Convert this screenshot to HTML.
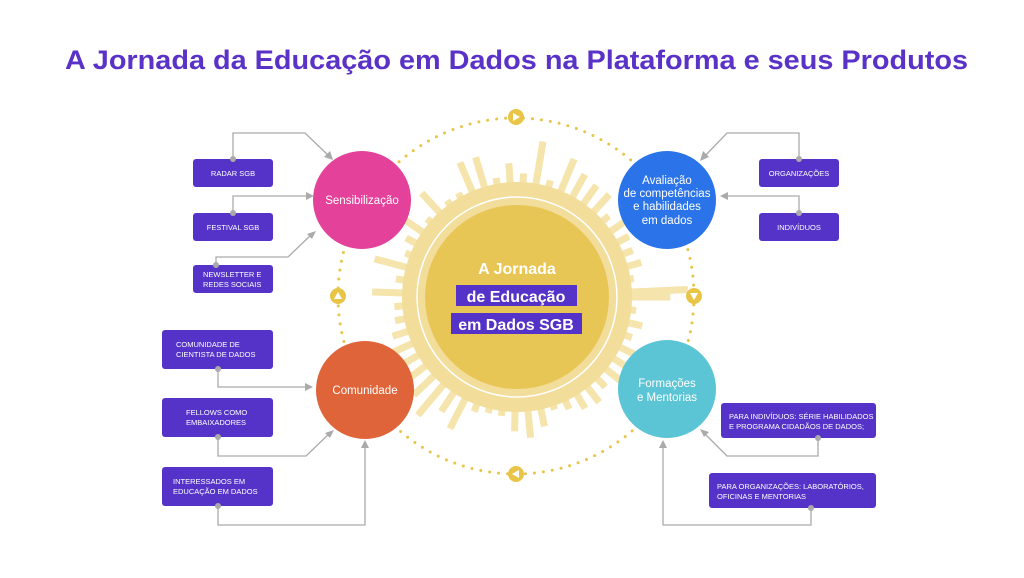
<!DOCTYPE html>
<html><head><meta charset="utf-8"><style>
body{margin:0;width:1024px;height:573px;background:#fff;overflow:hidden;font-family:"Liberation Sans",sans-serif}
</style></head><body>
<svg id="s" width="1024" height="573" viewBox="0 0 1024 573" xmlns="http://www.w3.org/2000/svg">
<text x="65" y="69" textLength="903" lengthAdjust="spacingAndGlyphs" font-family="Liberation Sans,sans-serif" font-weight="bold" font-size="27" fill="#5a32c8">A Jornada da Educação em Dados na Plataforma e seus Produtos</text>
<circle cx="516" cy="296" r="178" fill="none" stroke="#e8c547" stroke-width="3" stroke-dasharray="0 9" stroke-linecap="round"/>
<g id="rays" stroke="#f5e4ab" stroke-width="7"></g>
<circle cx="517" cy="297" r="115" fill="#f2dd9a"/>
<circle cx="517" cy="297" r="100" fill="none" stroke="#fff" stroke-width="1.5"/>
<circle cx="517" cy="297" r="92" fill="#e8c655"/>
<text x="517" y="274" text-anchor="middle" font-weight="bold" font-size="16" fill="#fff">A Jornada</text>
<rect x="456" y="285" width="121" height="21" fill="#5533c9"/>
<text x="516" y="302" text-anchor="middle" font-weight="bold" font-size="16" fill="#fff">de Educação</text>
<rect x="451" y="313" width="131" height="21" fill="#5533c9"/>
<text x="516" y="330" text-anchor="middle" font-weight="bold" font-size="16" fill="#fff">em Dados SGB</text>
<g fill="#e8c547">
<circle cx="516" cy="117" r="8"/><circle cx="694" cy="296" r="8"/><circle cx="516" cy="474" r="8"/><circle cx="338" cy="296" r="8"/>
</g>
<g fill="#fff">
<polygon points="513,113 513,121 520,117"/><polygon points="690,293 698,293 694,300"/>
<polygon points="519,470 519,478 512,474"/><polygon points="334,299 342,299 338,292"/>
</g>
<circle cx="362" cy="200" r="49" fill="#e4419a"/>
<circle cx="365" cy="390" r="49" fill="#e0643a"/>
<circle cx="667" cy="200" r="49" fill="#2a73e8"/>
<circle cx="667" cy="389" r="49" fill="#5bc5d5"/>
<g font-size="11.5" fill="#fff" text-anchor="middle">
<text x="362" y="204">Sensibilização</text>
<text x="365" y="394">Comunidade</text>
<text x="667" y="184">Avaliação</text><text x="667" y="197">de competências</text>
<text x="667" y="210">e habilidades</text><text x="667" y="224">em dados</text>
<text x="667" y="387">Formações</text><text x="667" y="401">e Mentorias</text>
</g>
<g fill="none" stroke="#aaa" stroke-width="1.3">
<polyline points="233,159 233,133 305,133 330,157"/>
<polyline points="233,213 233,196 309,196"/>
<polyline points="216,265 216,257 288,257 313,233"/>
<polyline points="218,369 218,387 309,387"/>
<polyline points="218,437 218,456 306,456 331,432"/>
<polyline points="218,506 218,525 365,525 365,445"/>
<polyline points="799,159 799,133 727,133 703,158"/>
<polyline points="799,213 799,196 725,196"/>
<polyline points="818,438 818,456 727,456 703,432"/>
<polyline points="811,508 811,525 663,525 663,445"/>
</g>
<g fill="#aaa">
<polygon points="333,160 324,157 330,151"/>
<polygon points="314,196 306,192 306,200"/>
<polygon points="316,231 312,239 307,234"/>
<polygon points="313,387 305,383 305,391"/>
<polygon points="334,430 330,438 325,433"/>
<polygon points="365,440 361,448 369,448"/>
<polygon points="700,161 709,157 703,151"/>
<polygon points="720,196 728,192 728,200"/>
<polygon points="700,429 704,437 709,432"/>
<polygon points="663,440 659,448 667,448"/>
</g>
<g fill="#5533c9">
<rect x="193" y="159" width="80" height="28" rx="3"/>
<rect x="193" y="213" width="80" height="28" rx="3"/>
<rect x="193" y="265" width="80" height="28" rx="3"/>
<rect x="162" y="330" width="111" height="39" rx="3"/>
<rect x="162" y="398" width="111" height="39" rx="3"/>
<rect x="162" y="467" width="111" height="39" rx="3"/>
<rect x="759" y="159" width="80" height="28" rx="3"/>
<rect x="759" y="213" width="80" height="28" rx="3"/>
<rect x="721" y="403" width="155" height="35" rx="3"/>
<rect x="709" y="473" width="167" height="35" rx="3"/>
</g>
<g fill="#aaa">
<circle cx="233" cy="159" r="3"/><circle cx="233" cy="213" r="3"/><circle cx="216" cy="265" r="3"/>
<circle cx="218" cy="369" r="3"/><circle cx="218" cy="437" r="3"/><circle cx="218" cy="506" r="3"/>
<circle cx="799" cy="159" r="3"/><circle cx="799" cy="213" r="3"/><circle cx="818" cy="438" r="3"/><circle cx="811" cy="508" r="3"/>
</g>
<g font-size="7.5" fill="#fff">
<text x="233" y="176" text-anchor="middle">RADAR SGB</text>
<text x="233" y="230" text-anchor="middle">FESTIVAL SGB</text>
<text x="203" y="277">NEWSLETTER E</text><text x="203" y="287">REDES SOCIAIS</text>
<text x="176" y="347">COMUNIDADE DE</text><text x="176" y="357">CIENTISTA DE DADOS</text>
<text x="186" y="415">FELLOWS COMO</text><text x="186" y="425">EMBAIXADORES</text>
<text x="173" y="484">INTERESSADOS EM</text><text x="173" y="494">EDUCAÇÃO EM DADOS</text>
<text x="799" y="176" text-anchor="middle">ORGANIZAÇÕES</text>
<text x="799" y="230" text-anchor="middle">INDIVÍDUOS</text>
<text x="729" y="419">PARA INDIVÍDUOS: SÉRIE HABILIDADOS</text><text x="729" y="429">E PROGRAMA CIDADÃOS DE DADOS;</text>
<text x="717" y="489">PARA ORGANIZAÇÕES: LABORATÓRIOS,</text><text x="717" y="499">OFICINAS E MENTORIAS</text>
</g>
</svg>
<script>
var g=document.getElementById('rays'),seed=11;
function r(){seed=(seed*9301+49297)%233280;return seed/233280;}
var s='';
for(var a=0;a<360;a+=6.5){var L=118+r()*r()*60;var t=a*Math.PI/180;
var x1=517+110*Math.cos(t),y1=297+110*Math.sin(t),x2=517+L*Math.cos(t),y2=297+L*Math.sin(t);
s+='<line x1="'+x1+'" y1="'+y1+'" x2="'+x2+'" y2="'+y2+'"/>';}
g.innerHTML=s;
</script>
</body></html>
